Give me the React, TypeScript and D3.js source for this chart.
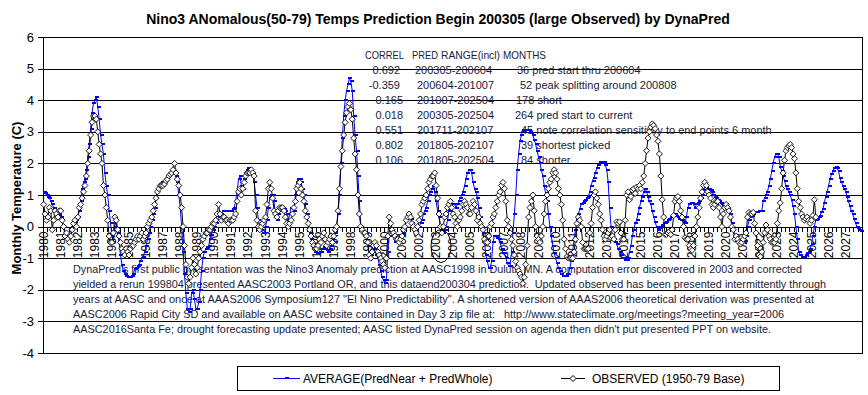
import { useEffect, useRef } from "react";
import * as d3 from "d3";

// Monthly series, Jan 1980 onward (one row per year)
const predicted: number[] = [
  1.1, 1.05, 1.0, 0.95, 0.9, 0.8, 0.7, 0.6, 0.5, 0.45, 0.4, 0.35, // 1980
  0.3, 0.2, 0.0, -0.2, -0.3, -0.5, -0.3, -0.1, 0.0, 0.1, 0.15, 0.2, // 1981
  0.3, 0.5, 0.8, 1.2, 1.4, 1.5, 1.8, 2.2, 2.6, 3.1, 3.6, 3.9, // 1982
  4.0, 4.1, 3.8, 3.4, 2.9, 2.6, 2.3, 1.7, 1.3, 1.0, 0.5, 0.1, // 1983
  -0.3, -0.5, 0.0, 0.2, -0.2, -0.5, -0.9, -1.2, -1.4, -1.5, -1.55, -1.6, // 1984
  -1.6, -1.6, -1.55, -1.5, -1.35, -1.3, -1.25, -1.2, -1.1, -1.0, -0.95, -0.8, // 1985
  -0.6, -0.4, -0.2, 0.0, 0.2, 0.4, 0.6, 0.9, 1.2, 1.3, 1.35, 1.4, // 1986
  1.4, 1.4, 1.5, 1.55, 1.6, 1.65, 1.7, 1.75, 1.7, 1.6, 1.4, 1.0, // 1987
  0.6, 0.0, -0.8, -1.5, -2.1, -2.6, -2.7, -2.6, -2.1, -2.0, -2.3, -2.6, // 1988
  -2.6, -2.4, -2.0, -1.4, -1.0, -0.8, -0.7, -0.65, -0.6, -0.4, -0.25, -0.1, // 1989
  0.0, 0.1, 0.2, 0.3, 0.4, 0.4, 0.5, 0.5, 0.5, 0.5, 0.5, 0.5, // 1990
  0.5, 0.55, 0.6, 0.8, 1.1, 1.5, 1.6, 1.3, 1.2, 1.5, 1.7, 1.8, // 1991
  1.85, 1.8, 1.75, 1.7, 1.4, 1.0, 0.6, 0.2, 0.0, -0.1, -0.2, -0.2, // 1992
  0.0, 0.2, 0.6, 0.9, 1.0, 1.0, 0.8, 0.3, 0.2, 0.4, 0.5, 0.6, // 1993
  0.6, 0.55, 0.5, 0.4, 0.2, 0.4, 0.6, 0.6, 0.5, 1.0, 1.4, 1.5, // 1994
  1.5, 1.4, 1.2, 1.0, 0.7, 0.4, 0.1, -0.2, -0.4, -0.6, -0.7, -0.8, // 1995
  -0.85, -0.85, -0.8, -0.8, -0.7, -0.65, -0.7, -0.75, -0.8, -0.7, -0.6, -0.5, // 1996
  -0.5, -0.2, 0.0, 0.4, 1.0, 2.0, 2.8, 3.5, 4.0, 4.3, 4.5, 4.7, // 1997
  4.6, 4.3, 3.5, 2.9, 2.4, 1.6, 0.8, 0.0, -0.15, -0.2, -0.2, -0.2, // 1998
  -0.6, -1.0, -0.9, -0.8, -0.7, -0.8, -0.9, -1.0, -1.2, -1.4, -1.6, -1.7, // 1999
  -1.8, -1.7, -0.8, -0.3, -0.1, -0.2, -0.3, -0.5, -0.5, -0.45, -0.4, -0.3, // 2000
  -0.3, -0.2, 0.0, 0.2, 0.3, 0.3, 0.25, 0.1, 0.0, -0.1, -0.1, 0.0, // 2001
  0.0, 0.1, 0.2, 0.4, 0.5, 0.6, 0.8, 1.0, 1.1, 1.2, 1.3, 1.1, // 2002
  0.8, 0.5, 0.3, 0.0, -0.1, -0.2, -0.1, 0.0, 0.2, 0.5, 0.6, 0.7, // 2003
  0.7, 0.7, 0.6, 0.7, 0.8, 0.9, 1.0, 1.1, 1.3, 1.5, 1.7, 1.8, // 2004
  1.8, 1.7, 1.4, 1.2, 1.1, 0.9, 0.6, 0.3, 0.0, -0.2, -0.5, -0.9, // 2005
  -1.1, -1.3, -1.3, -1.1, -0.5, -0.3, -0.3, -0.35, -0.4, -0.5, -0.7, -0.85, // 2006
  -0.85, -1.0, -1.15, -1.25, -1.25, -0.8, -0.2, 0.4, 1.0, 1.8, 2.3, 2.7, // 2007
  2.9, 3.05, 3.05, 3.05, 3.05, 3.05, 3.0, 2.95, 2.9, 2.75, 2.6, 2.4, // 2008
  2.2, 2.0, 1.8, 1.6, 1.3, 1.05, 0.8, 0.4, 0.0, -0.3, -0.6, -0.85, // 2009
  -1.0, -1.15, -1.3, -1.4, -1.5, -1.55, -1.55, -1.55, -1.5, -1.5, -1.3, -1.1, // 2010
  -0.8, -0.4, -0.1, 0.2, 0.4, 0.55, 0.7, 0.75, 0.8, 0.85, 0.9, 0.95, // 2011
  1.1, 1.3, 1.45, 1.55, 1.7, 1.85, 1.95, 2.05, 2.05, 2.05, 2.05, 1.95, // 2012
  1.8, 1.4, 0.6, 0.0, -0.3, -0.4, -0.5, -0.55, -0.7, -0.8, -0.9, -1.0, // 2013
  -1.0, -1.05, -1.05, -1.0, -0.8, -0.6, -0.3, -0.1, 0.1, 0.2, 0.4, 0.6, // 2014
  0.8, 0.95, 1.1, 1.2, 1.1, 0.95, 0.8, 0.7, 0.5, 0.3, 0.15, 0.0, // 2015
  -0.1, -0.05, 0.0, 0.05, 0.1, 0.1, 0.15, 0.2, 0.25, 0.3, 0.35, 0.4, // 2016
  0.4, 0.35, 0.3, 0.25, 0.2, 0.2, 0.15, 0.1, 0.3, 0.6, 0.7, 0.75, // 2017
  0.75, 0.7, 0.6, 0.7, 0.75, 0.8, 0.9, 1.0, 1.15, 1.25, 1.25, 1.2, // 2018
  1.2, 1.15, 1.1, 1.0, 0.95, 0.9, 0.85, 0.8, 0.75, 0.7, 0.65, 0.6, // 2019
  0.7, 0.6, 0.5, 0.4, 0.1, -0.1, -0.3, -0.45, -0.5, -0.5, -0.5, -0.5, // 2020
  -0.5, -0.45, -0.3, 0.0, 0.2, 0.3, 0.35, 0.4, 0.45, 0.45, 0.45, 0.5, // 2021
  0.5, 0.5, 0.8, 0.9, 1.0, 1.1, 1.3, 1.5, 1.75, 2.0, 2.2, 2.3, // 2022
  2.3, 2.2, 1.9, 1.75, 1.6, 1.45, 1.3, 1.2, 1.1, 1.0, 0.85, 0.65, // 2023
  0.4, 0.0, -0.4, -0.8, -0.9, -0.95, -0.95, -0.95, -0.9, -0.85, -0.8, -0.7, // 2024
  -0.55, -0.3, 0.0, 0.2, 0.25, 0.3, 0.35, 0.45, 0.55, 0.75, 0.95, 1.1, // 2025
  1.3, 1.5, 1.65, 1.75, 1.85, 1.9, 1.85, 1.75, 1.55, 1.4, 1.3, 1.2, // 2026
  1.1, 0.95, 0.8, 0.65, 0.5, 0.4, 0.25, 0.1, 0.0, -0.05, -0.1, -0.15, // 2027
];

const observed: number[] = [
  0.7, 0.4, 0.2, 0.3, 0.6, 0.5, -0.1, 0.2, 0.5, 0.4, 0.3, 0.5, // 1980
  0.5, 0.2, 0.0, -0.3, -0.2, -0.4, -0.5, -0.3, -0.1, 0.1, 0.2, 0.0, // 1981
  0.3, 0.6, 0.7, 0.9, 1.1, 1.3, 1.6, 2.0, 2.4, 2.9, 3.3, 3.5, // 1982
  3.5, 3.4, 3.0, 2.6, 2.3, 2.0, 1.3, 1.0, 0.6, 0.2, -0.3, -0.5, // 1983
  -0.5, -0.2, 0.3, 0.2, -0.1, -0.3, -0.5, -0.7, -0.8, -0.9, -0.7, -0.8, // 1984
  -0.9, -0.7, -0.6, -0.6, -0.5, -0.4, -0.3, -0.4, -0.3, -0.2, -0.4, -0.3, // 1985
  -0.2, 0.0, 0.1, 0.2, 0.3, 0.5, 0.7, 0.9, 1.1, 1.2, 1.3, 1.3, // 1986
  1.3, 1.35, 1.45, 1.5, 1.6, 1.65, 1.7, 1.8, 2.0, 1.7, 1.5, 1.3, // 1987
  1.0, 0.6, 0.0, -0.6, -1.2, -1.6, -1.8, -1.6, -1.3, -1.0, -1.2, -1.5, // 1988
  -1.3, -1.0, -0.8, -0.6, -0.4, -0.3, -0.2, -0.2, -0.1, -0.1, 0.0, 0.1, // 1989
  0.1, 0.2, 0.4, 0.7, 0.4, 0.2, 0.3, 0.3, 0.2, 0.2, 0.1, 0.2, // 1990
  0.2, 0.2, 0.3, 0.4, 0.8, 1.1, 1.2, 1.0, 1.2, 1.4, 1.6, 1.7, // 1991
  1.7, 1.7, 1.8, 1.7, 1.6, 0.5, 0.2, 0.0, -0.1, 0.0, 0.1, 0.2, // 1992
  0.3, 0.7, 1.2, 1.4, 1.2, 0.9, 0.5, 0.4, 0.3, 0.5, 0.6, 0.6, // 1993
  0.6, 0.5, 0.3, 0.1, 0.0, 0.1, 0.2, 0.4, 0.6, 0.8, 1.2, 1.3, // 1994
  1.4, 1.2, 1.0, 0.8, 0.5, 0.3, 0.1, -0.1, -0.3, -0.5, -0.6, -0.7, // 1995
  -0.7, -0.6, -0.4, -0.5, -0.3, -0.2, -0.4, -0.6, -0.5, -0.4, -0.3, -0.5, // 1996
  -0.3, -0.1, 0.0, 0.5, 1.2, 1.9, 2.4, 2.9, 3.3, 3.6, 3.8, 3.9, // 1997
  3.7, 3.4, 2.8, 2.3, 1.8, 1.0, 0.4, 0.0, -0.1, -0.2, -0.2, -0.3, // 1998
  -0.5, -0.9, -1.0, -0.8, -0.6, -0.5, -0.6, -0.8, -0.9, -1.0, -1.1, -1.2, // 1999
  -1.3, -1.0, -0.3, 0.3, 0.1, -0.1, -0.2, -0.3, -0.4, -0.4, -0.5, -0.4, // 2000
  -0.3, -0.1, 0.0, 0.2, 0.3, 0.4, 0.3, 0.1, 0.0, -0.1, -0.2, 0.0, // 2001
  0.2, 0.4, 0.7, 0.8, 0.9, 1.0, 1.2, 1.4, 1.5, 1.6, 1.6, 1.7, // 2002
  1.3, 0.9, 0.4, 0.0, -0.2, 0.0, 0.3, 0.4, 0.6, 0.7, 0.8, 0.6, // 2003
  0.4, 0.3, 0.1, 0.0, 0.2, 0.3, 0.5, 0.7, 0.8, 0.7, 0.6, 0.4, // 2004
  0.4, 0.6, 0.8, 0.7, 0.5, 0.2, 0.3, 0.1, 0.0, -0.1, -0.4, -0.5, // 2005
  -0.5, -0.3, 0.0, 0.1, 0.3, 0.4, 0.6, 0.8, 1.0, 1.1, 1.3, 1.4, // 2006
  1.2, 0.8, 0.2, 0.0, -0.2, -0.4, -0.6, -0.9, -1.1, -1.3, -1.4, -1.5, // 2007
  -1.6, -1.8, -1.6, -1.2, -0.6, 0.3, 0.6, 0.8, 1.0, 0.5, 0.0, -0.3, // 2008
  -0.4, -0.5, -0.3, 0.0, 0.4, 0.8, 1.0, 1.2, 1.4, 1.5, 1.7, 1.8, // 2009
  1.7, 1.5, 1.2, 1.0, 0.7, 0.2, -0.4, -0.7, -0.95, -1.0, -1.0, -1.0, // 2010
  -1.0, -0.8, -0.4, 0.1, 0.3, 0.2, 0.0, -0.5, -0.7, -0.7, -0.7, -0.7, // 2011
  -0.2, 0.1, 0.6, 1.0, 1.1, 0.9, 0.7, 0.4, 0.2, -0.1, -0.3, -0.4, // 2012
  -0.3, -0.2, -0.1, -0.35, -0.3, -0.4, -0.1, 0.15, 0.1, 0.15, -0.2, -0.4, // 2013
  -0.4, 0.2, 1.0, 1.1, 0.85, 0.95, 1.15, 1.2, 1.05, 1.25, 1.2, 1.3, // 2014
  1.2, 1.4, 1.6, 2.0, 2.4, 2.8, 3.0, 3.15, 3.25, 3.2, 3.1, 2.9, // 2015
  2.7, 2.3, 1.6, 0.85, 0.3, -0.25, -0.25, -0.2, -0.15, -0.25, -0.1, 0.35, // 2016
  0.8, 0.9, 0.95, 0.8, 0.5, 0.3, 0.0, -0.35, -0.4, -0.4, -0.6, -0.7, // 2017
  -0.75, -0.6, -0.3, 0.0, 0.3, 0.6, 0.9, 1.1, 1.3, 1.4, 1.3, 1.1, // 2018
  1.0, 0.9, 0.7, 0.6, 0.7, 0.8, 0.8, 0.6, 0.3, 0.0, 0.4, 0.6, // 2019
  0.7, 0.6, 0.5, 0.3, 0.0, -0.1, -0.4, -0.3, -0.4, -0.5, -0.55, -0.5, // 2020
  -0.4, -0.3, -0.2, 0.3, 0.45, 0.4, 0.4, 0.45, 0.1, -0.2, -0.6, -0.9, // 2021
  -0.95, -0.8, -0.5, -0.2, 0.05, -0.1, -0.3, -0.4, -0.5, -0.5, -0.5, -0.4, // 2022
  0.1, 0.5, 0.75, 1.2, 1.7, 2.1, 2.4, 2.5, 2.55, 2.6, 2.5, 2.3, // 2023
  2.15, 1.7, 1.2, 0.8, 0.6, 0.4, 0.3, 0.2, 0.25, 0.3, 0.2, 0.1, // 2024
  0.2, 0.35, 0.85, 0.3, // 2025 (Jan-Apr)
];

const yearLabels = [
  "1980", "1981", "1982", "1983", "1984", "1985", "1986", "1987", "1988", "1989",
  "1990", "1991", "1992", "1993", "1994", "1995", "1996", "1997", "1998", "1999",
  "2000", "2001", "2002", "2003", "2004", "2005", "2006", "2007", "2008", "2009",
  "2010", "2011", "2012", "2013", "2014", "2015", "2016", "2017", "2018", "2019",
  "2020", "2021", "2022", "2023", "2024", "2025", "2026", "2027",
];

const yTicks = [6, 5, 4, 3, 2, 1, 0, -1, -2, -3, -4];

const seriesNames = ["AVERAGE(PredNear + PredWhole)", "OBSERVED (1950-79 Base)"];

const tableHeader = ["CORREL", "PRED", "RANGE(incl)", "MONTHS"];
const correlValues = ["0.692", "-0.359", "0.165", "0.018", "0.551", "0.802", "0.106"];
const predRanges = [
  "200305-200604",
  "200604-201007",
  "201007-202504",
  "200305-202504",
  "201711-202107",
  "201805-202107",
  "201805-202504",
];
const monthNotes = [
  "36 pred start thru 200604",
  "52 peak splitting around 200808",
  "178  short",
  "264 pred start to current",
  "45 note correlation sensitivity to end points 6 month",
  "39 shortest picked",
  "84 shorter",
];

const noteLines = [
  "DynaPred's first public presentation was the Nino3 Anomaly prediction at AASC1998 in Duluth MN. A computation error discovered in 2003 and corrected",
  "yielded a rerun 199804 presented AASC2003 Portland OR, and this dataend200304 prediction.  Updated observed has been presented intermittently through",
  "years at AASC and once at AAAS2006 Symposium127 \"El Nino Predictability\". A shortened version of AAAS2006 theoretical derivation was presented at",
  "AASC2006 Rapid City SD and available on AASC website contained in Day 3 zip file at:   http://www.stateclimate.org/meetings?meeting_year=2006",
  "AASC2016Santa Fe; drought forecasting update presented; AASC listed DynaPred session on agenda then didn't put presented PPT on website.",
];

const FONT = "'Liberation Sans', Arial, sans-serif";
const TEXT_DARK = "#1a1a3a";

export default function App() {
  const svgRef = useRef<SVGSVGElement | null>(null);

  useEffect(() => {
    if (!svgRef.current) return;
    document.body.style.margin = "0";

    const width = 868;
    const height = 395;
    const plot = { left: 43, right: 862, top: 37, bottom: 353 };

    const svg = d3.select(svgRef.current);
    svg.selectAll("*").remove();
    svg.attr("width", width).attr("height", height).style("font-family", FONT);

    svg.append("rect").attr("width", width).attr("height", height).attr("fill", "#fff");

    const nMonths = predicted.length;
    const x = d3.scaleLinear().domain([0, nMonths]).range([plot.left, plot.right]);
    const y = d3.scaleLinear().domain([-4, 6]).range([plot.bottom, plot.top]);
    const cx = (i: number) => x(i + 0.5);
    const crisp = (v: number) => Math.round(v) + 0.5;

    // Title
    svg
      .append("text")
      .attr("x", 438)
      .attr("y", 24)
      .attr("text-anchor", "middle")
      .style("font-size", "14px")
      .style("font-weight", "700")
      .text("Nino3 ANomalous(50-79) Temps Prediction Begin 200305 (large Observed) by DynaPred");

    // Y axis label
    svg
      .append("text")
      .attr("transform", "translate(21,198) rotate(-90)")
      .attr("text-anchor", "middle")
      .style("font-size", "13px")
      .style("font-weight", "700")
      .text("Monthly Temperature (C)");

    // Gridlines (one per unit)
    svg
      .append("g")
      .selectAll("line")
      .data(yTicks)
      .join("line")
      .attr("x1", plot.left)
      .attr("x2", plot.right)
      .attr("y1", (d) => crisp(y(d)))
      .attr("y2", (d) => crisp(y(d)))
      .attr("stroke", "#000")
      .attr("shape-rendering", "crispEdges");

    // Plot border
    svg
      .append("rect")
      .attr("x", crisp(plot.left))
      .attr("y", crisp(plot.top))
      .attr("width", plot.right - plot.left)
      .attr("height", plot.bottom - plot.top)
      .attr("fill", "none")
      .attr("stroke", "#000")
      .attr("shape-rendering", "crispEdges");

    // Y ticks + labels
    const yAxis = svg.append("g");
    yAxis
      .selectAll("line")
      .data(yTicks)
      .join("line")
      .attr("x1", plot.left - 5)
      .attr("x2", plot.left)
      .attr("y1", (d) => crisp(y(d)))
      .attr("y2", (d) => crisp(y(d)))
      .attr("stroke", "#000")
      .attr("shape-rendering", "crispEdges");
    yAxis
      .selectAll("text")
      .data(yTicks)
      .join("text")
      .attr("x", 34)
      .attr("y", (d) => y(d) + 4.5)
      .attr("text-anchor", "end")
      .style("font-size", "13px")
      .text((d) => String(d));

    // X axis (category axis crossing at 0)
    const y0 = crisp(y(0));
    const xAxis = svg.append("g");
    xAxis
      .selectAll("line")
      .data(d3.range(0, nMonths + 1, 3))
      .join("line")
      .attr("x1", (d) => crisp(x(d)))
      .attr("x2", (d) => crisp(x(d)))
      .attr("y1", y0)
      .attr("y2", y0 + 4)
      .attr("stroke", "#000")
      .attr("shape-rendering", "crispEdges");
    xAxis
      .selectAll("text")
      .data(yearLabels)
      .join("text")
      .attr("transform", (_d, i) => `translate(${cx(i * 12)},${y0 + 4}) rotate(-90)`)
      .attr("text-anchor", "end")
      .attr("dominant-baseline", "central")
      .style("font-size", "12px")
      .text((d) => d);

    // Correlation table (text box)
    const table = svg.append("g").style("font-size", "11px").attr("fill", TEXT_DARK);
    const headerX = [365, 412, 441, 503];
    const headerW = [39, 26, 59, 43];
    table
      .selectAll("text.head")
      .data(tableHeader)
      .join("text")
      .attr("class", "head")
      .attr("x", (_d, i) => headerX[i])
      .attr("y", 59)
      .attr("textLength", (_d, i) => headerW[i])
      .attr("lengthAdjust", "spacingAndGlyphs")
      .text((d) => d);
    const rowY = (i: number) => 74 + i * 15;
    table
      .selectAll("text.correl")
      .data(correlValues)
      .join("text")
      .attr("class", "correl")
      .attr("x", (_d, i) => (i < 2 ? 400 : 403))
      .attr("y", (_d, i) => rowY(i))
      .attr("text-anchor", "end")
      .text((d) => d);
    table
      .selectAll("text.range")
      .data(predRanges)
      .join("text")
      .attr("class", "range")
      .attr("x", (_d, i) => (i < 1 ? 415 : 417))
      .attr("y", (_d, i) => rowY(i))
      .text((d) => d);
    const noteX = [517, 520, 516, 515, 521, 521, 521];
    table
      .selectAll("text.note")
      .data(monthNotes)
      .join("text")
      .attr("class", "note")
      .attr("x", (_d, i) => noteX[i])
      .attr("y", (_d, i) => rowY(i))
      .text((d) => d);

    // Paragraph text box
    const lineW = [729, 753, 741, 711, 698];
    svg
      .append("g")
      .style("font-size", "11px")
      .attr("fill", TEXT_DARK)
      .selectAll("text")
      .data(noteLines)
      .join("text")
      .attr("x", 73)
      .attr("y", (_d, i) => 273 + i * 15)
      .attr("textLength", (_d, i) => lineW[i])
      .attr("lengthAdjust", "spacingAndGlyphs")
      .style("white-space", "pre")
      .text((d) => d);

    // Hand-drawn ellipse around 2003
    svg
      .append("ellipse")
      .attr("cx", 441)
      .attr("cy", 246)
      .attr("rx", 10)
      .attr("ry", 16.5)
      .attr("fill", "none")
      .attr("stroke", "#000");

    // Prediction series
    const line = d3
      .line<number>()
      .x((_d, i) => cx(i))
      .y((d) => y(d));

    svg
      .append("path")
      .datum(predicted)
      .attr("d", line)
      .attr("fill", "none")
      .attr("stroke", "#0000ff")
      .attr("stroke-width", 1);
    svg
      .append("g")
      .selectAll("rect")
      .data(predicted)
      .join("rect")
      .attr("x", (_d, i) => Math.round(cx(i)) - 1)
      .attr("y", (d) => Math.round(y(d)) - 1)
      .attr("width", 4)
      .attr("height", 2)
      .attr("fill", "#0000ff")
      .attr("shape-rendering", "crispEdges");

    // Observed series
    svg
      .append("path")
      .datum(observed)
      .attr("d", line)
      .attr("fill", "none")
      .attr("stroke", "#000")
      .attr("stroke-width", 1);
    const r = 3;
    svg
      .append("g")
      .selectAll("path")
      .data(observed)
      .join("path")
      .attr("d", (d, i) => {
        const px = cx(i);
        const py = y(d);
        return `M${px},${py - r}L${px + r},${py}L${px},${py + r}L${px - r},${py}Z`;
      })
      .attr("fill", "#fff")
      .attr("stroke", "#000")
      .attr("stroke-width", 0.9);

    // Legend
    const legend = svg.append("g");
    legend
      .append("rect")
      .attr("x", 237.5)
      .attr("y", 366.5)
      .attr("width", 542)
      .attr("height", 24)
      .attr("fill", "#fff")
      .attr("stroke", "#000")
      .attr("shape-rendering", "crispEdges");
    legend
      .append("line")
      .attr("x1", 273)
      .attr("x2", 300)
      .attr("y1", 378.5)
      .attr("y2", 378.5)
      .attr("stroke", "#0000ff");
    legend
      .append("rect")
      .attr("x", 285)
      .attr("y", 377)
      .attr("width", 4)
      .attr("height", 2)
      .attr("fill", "#0000ff");
    legend
      .append("text")
      .attr("x", 303)
      .attr("y", 382.5)
      .style("font-size", "12px")
      .text(seriesNames[0]);
    legend
      .append("line")
      .attr("x1", 561)
      .attr("x2", 585)
      .attr("y1", 378.5)
      .attr("y2", 378.5)
      .attr("stroke", "#000");
    legend
      .append("path")
      .attr("d", `M573,${378.5 - r}L${573 + r},378.5L573,${378.5 + r}L${573 - r},378.5Z`)
      .attr("fill", "#fff")
      .attr("stroke", "#000");
    legend
      .append("text")
      .attr("x", 592)
      .attr("y", 382.5)
      .style("font-size", "12px")
      .text(seriesNames[1]);
  }, []);

  return <svg ref={svgRef} style={{ display: "block" }} />;
}
